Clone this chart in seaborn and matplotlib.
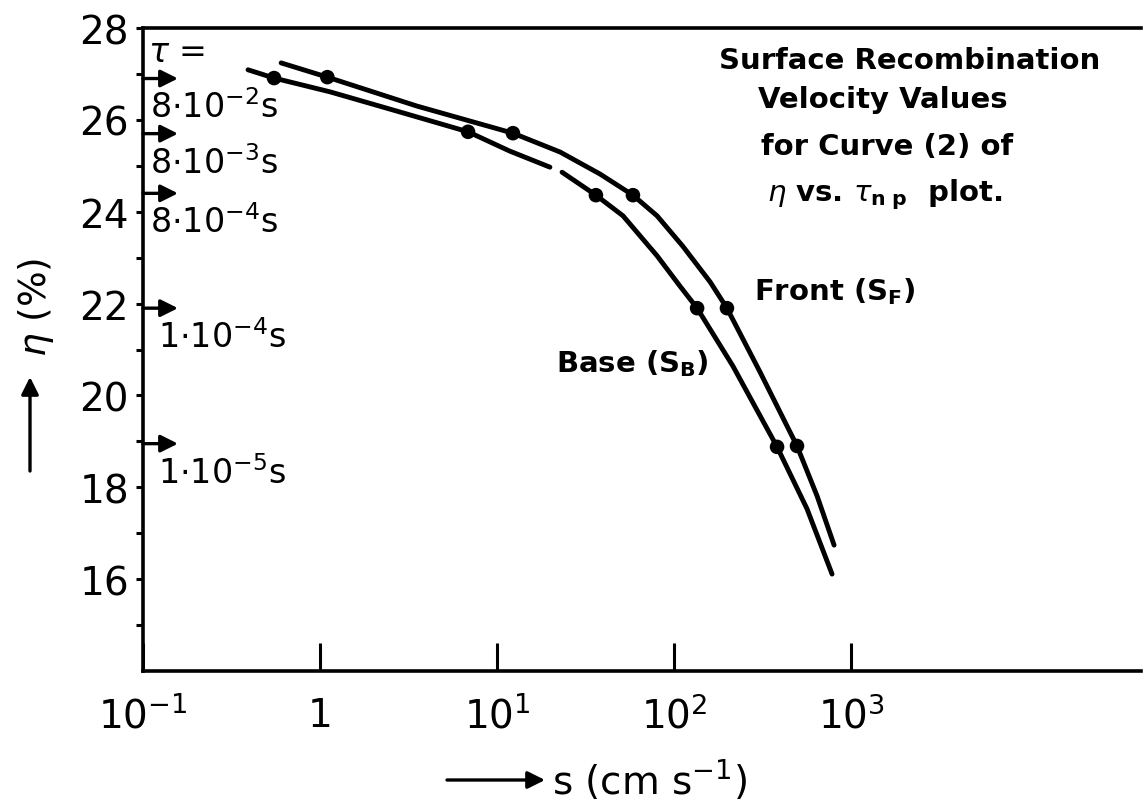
import numpy as np
import pandas as pd
import matplotlib
matplotlib.use("Agg")
import matplotlib.pyplot as plt
import seaborn as sns
from matplotlib.ticker import FixedLocator, FixedFormatter, NullLocator

# ---------------- data ----------------
# Base (S_B) curve, drawn in two pieces (gap in the original drawing)
base_s_a = [0.392, 0.550, 1.139, 2.72, 6.86, 11.8, 19.9]
base_eta_a = [27.09, 26.91, 26.61, 26.19, 25.74, 25.32, 24.97]
base_s_b = [23.3, 36.2, 51.5, 80.2, 108, 135, 215, 382, 564, 781]
base_eta_b = [24.86, 24.36, 23.91, 23.04, 22.38, 21.90, 20.64, 18.88, 17.53, 16.11]
base_pts_s = [0.55, 6.86, 36.2, 135, 382]
base_pts_eta = [26.91, 25.74, 24.36, 21.90, 18.88]

# Front (S_F) curve
front_s = [0.603, 1.10, 3.53, 12.3, 22.7, 38.2, 58.6, 80.2, 112, 160, 199, 306, 495, 643, 802]
front_eta = [27.24, 26.93, 26.30, 25.71, 25.30, 24.82, 24.36, 23.91, 23.25, 22.47, 21.90,
             20.51, 18.90, 17.81, 16.74]
front_pts_s = [1.10, 12.3, 58.6, 199, 495]
front_pts_eta = [26.93, 25.71, 24.36, 21.90, 18.90]

# tau levels marked on the left axis
tau_eta = [26.9, 25.7, 24.4, 21.9, 18.95]
tau_labels = [r"$8{\cdot}10^{-2}$s", r"$8{\cdot}10^{-3}$s", r"$8{\cdot}10^{-4}$s",
              r"$1{\cdot}10^{-4}$s", r"$1{\cdot}10^{-5}$s"]

# axis ticks
xtick_vals = [0.1, 1, 10, 100, 1000]
xtick_labels = [r"$10^{-1}$", "1", r"$10^{1}$", r"$10^{2}$", r"$10^{3}$"]
ytick_major = [16, 18, 20, 22, 24, 26, 28]
ytick_minor = [15, 17, 19, 21, 23, 25, 27]

# ---------------- styling ----------------
sns.set_style("white")
plt.rcParams['font.family'] = ['DejaVu Sans']
plt.rcParams['mathtext.fontset'] = 'dejavusans'
for key in ['text.color', 'axes.labelcolor', 'xtick.color', 'ytick.color', 'axes.edgecolor']:
    plt.rcParams[key] = 'black'

W, H = 1146, 804
fig = plt.figure(figsize=(W / 100, H / 100), dpi=100)
ax = fig.add_axes([143 / W, 1 - 672 / H, (1141 - 143) / W, (672 - 29) / H])
ax.set_xscale('log')


def fpx(x, y):
    return (x / W, 1 - y / H)


for s_list, e_list in [(base_s_a, base_eta_a), (base_s_b, base_eta_b), (front_s, front_eta)]:
    df = pd.DataFrame({'s': s_list, 'eta': e_list})
    sns.lineplot(data=df, x='s', y='eta', ax=ax, color='black', lw=3.5,
                 sort=False, estimator=None, legend=False)

pts = pd.DataFrame({'s': base_pts_s + front_pts_s, 'eta': base_pts_eta + front_pts_eta})
sns.scatterplot(data=pts, x='s', y='eta', ax=ax, color='black', s=110,
                edgecolor='none', zorder=5, legend=False)

ax.set_xlim(0.1, 10 ** 4.638)
ax.set_ylim(14, 28)
ax.set_xlabel("")
ax.set_ylabel("")

for side in ['left', 'bottom', 'top']:
    ax.spines[side].set_visible(True)
    ax.spines[side].set_color('black')
    ax.spines[side].set_linewidth(2.6)
ax.spines['right'].set_visible(False)

ax.xaxis.set_major_locator(FixedLocator(xtick_vals))
ax.xaxis.set_major_formatter(FixedFormatter(xtick_labels))
ax.xaxis.set_minor_locator(NullLocator())
ax.tick_params(axis='x', which='major', direction='in', length=20, width=2.2,
               pad=18, labelsize=28, bottom=True, top=False, colors='black')

ax.yaxis.set_major_locator(FixedLocator(ytick_major))
ax.yaxis.set_major_formatter(FixedFormatter([str(v) for v in ytick_major]))
ax.yaxis.set_minor_locator(FixedLocator(ytick_minor))
ax.tick_params(axis='y', which='both', direction='out', length=5, width=2.2,
               pad=5, labelsize=28, left=True, right=False, colors='black')

# tau arrows and labels
arrow_kw = dict(arrowstyle='-|>', lw=2.4, color='black', mutation_scale=26,
                shrinkA=0, shrinkB=0)
for eta, lab in zip(tau_eta, tau_labels):
    ax.annotate('', xy=(0.035, eta), xytext=(0.0, eta),
                xycoords=('axes fraction', 'data'), textcoords=('axes fraction', 'data'),
                arrowprops=arrow_kw)
    ax.annotate(lab, xy=(0.007 if lab.startswith('$8') else 0.015, eta),
                xycoords=('axes fraction', 'data'), xytext=(0, -28),
                textcoords='offset points', ha='left', va='baseline', fontsize=24,
                color='black')

fig.text(*fpx(148, 52), r"$\tau$ =", ha='left', va='center', fontsize=24, color='black')

# annotation block
bold = dict(fontsize=21, fontweight='bold', ha='center', va='center', color='black')
fig.text(*fpx(910, 61), "Surface Recombination", **bold)
fig.text(*fpx(883, 100), "Velocity Values", **bold)
fig.text(*fpx(887, 147), "for Curve (2) of", **bold)
fig.text(*fpx(885, 195), r"$\eta$ vs. $\tau_{\mathbf{n\ p}}$  plot.", **bold)
fig.text(*fpx(835, 292), r"Front (S$_{\mathbf{F}}$)", **bold)
fig.text(*fpx(632, 364), r"Base (S$_{\mathbf{B}}$)", **bold)

# axis labels with arrows
fig.text(*fpx(552, 780), r"s (cm s$^{-1}$)", ha='left', va='center', fontsize=28,
         color='black')
ax.annotate('', xy=fpx(545, 781), xytext=fpx(447, 781), xycoords='figure fraction',
            textcoords='figure fraction', arrowprops=arrow_kw)
fig.text(*fpx(36, 307), r"$\eta$ (%)", ha='center', va='center', fontsize=27, rotation=90,
         color='black')
ax.annotate('', xy=fpx(30, 378), xytext=fpx(30, 472), xycoords='figure fraction',
            textcoords='figure fraction', arrowprops=arrow_kw)

fig.savefig("out.png", dpi=100, facecolor='white')
